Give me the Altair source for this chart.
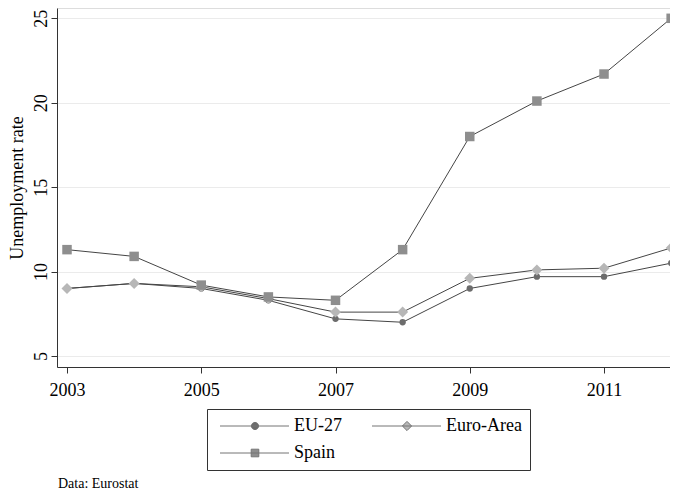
import altair as alt
import pandas as pd

years = list(range(2003, 2013))
series = ["EU-27", "Euro-Area", "Spain"]
eu27 = [9.0, 9.3, 9.0, 8.3, 7.2, 7.0, 9.0, 9.7, 9.7, 10.5]
euro_area = [9.0, 9.3, 9.1, 8.4, 7.6, 7.6, 9.6, 10.1, 10.2, 11.4]
spain = [11.3, 10.9, 9.2, 8.5, 8.3, 11.3, 18.0, 20.1, 21.7, 25.0]
x_ticks = [2003, 2005, 2007, 2009, 2011]
y_ticks = [5, 10, 15, 20, 25]

rows = []
for name, vals in zip(series, [eu27, euro_area, spain]):
    for yr, v in zip(years, vals):
        rows.append({"year": yr, "value": v, "series": name})
df = pd.DataFrame(rows)

FONT = "Liberation Serif"
LINE = "#454545"
LEG_LINE = "#747474"
fills = ["#6c6c6c", "#b7b7b7", "#8e8e8e"]
shapes = ["circle", "diamond", "square"]
sizes = [40, 121, 90]
legend_paths = [
    "M-1,0L16.25,0M8.65,0A0.9,0.9,0,1,1,6.85,0A0.9,0.9,0,1,1,8.65,0Z",
    "M-1,0L16.25,0M7.75,-1.15L8.9,0L7.75,1.15L6.6,0Z",
    "M-1,0L16.25,0M6.8,-0.95L8.7,-0.95L8.7,0.95L6.8,0.95Z",
]

base = alt.Chart(df).encode(
    x=alt.X(
        "year:Q",
        scale=alt.Scale(domain=[2002.851, 2011.983], nice=False, zero=False),
        axis=alt.Axis(
            values=x_ticks, format="d", title=None, grid=False,
            tickSize=6, labelPadding=8, labelFont=FONT, labelFontSize=18,
            labelColor="black", domainColor="#333", tickColor="#333",
            labelFlush=False,
        ),
    ),
    y=alt.Y(
        "value:Q",
        scale=alt.Scale(domain=[4.35, 25.61], nice=False, zero=False),
        axis=alt.Axis(
            values=y_ticks, title="Unemployment rate", grid=True,
            gridColor="#ebebeb", gridWidth=1,
            tickSize=6, labelPadding=5, labelAngle=270, labelAlign="center",
            labelBaseline="alphabetic", labelFont=FONT, labelFontSize=18,
            labelColor="black", domainColor="#333", tickColor="#333",
            titleFont=FONT, titleFontSize=18, titleFontWeight="normal",
            titleColor="black", titlePadding=6, labelFlush=False,
        ),
    ),
)

lines = base.mark_line(color=LINE, strokeWidth=1, clip=True).encode(detail="series:N")

point_layers = []
for s, f, sh, sz in zip(series, fills, shapes, sizes):
    point_layers.append(
        base.transform_filter(alt.datum.series == s).mark_point(
            shape=sh, fill=f, filled=True, size=sz, opacity=1, strokeWidth=0, clip=True
        )
    )

leg = alt.Legend(
    title=None, orient="none", legendX=150, legendY=401, columns=2,
    direction="horizontal",
    labelFont=FONT, labelFontSize=18, labelColor="black", labelOffset=61,
    symbolSize=64, symbolStrokeWidth=1, symbolOpacity=1,
    strokeColor="#333", fillColor="white", padding=8, columnPadding=25, rowPadding=9,
)

legend_layer = base.transform_calculate(key="datum.series").transform_filter(
    "false"
).mark_point(
    filled=False, stroke=LEG_LINE, strokeWidth=1, opacity=1
).encode(
    shape=alt.Shape("key:N", scale=alt.Scale(domain=series, range=legend_paths), legend=leg),
    fill=alt.Fill("key:N", scale=alt.Scale(domain=series, range=fills), legend=leg),
)

chart = alt.layer(lines, *point_layers, legend_layer).properties(
    width=613,
    height=359,
    padding={"left": 0, "top": 0, "right": 0, "bottom": 0},
    title=alt.TitleParams(
        text="Data: Eurostat", orient="bottom", anchor="start", frame="group",
        font=FONT, fontSize=14, fontWeight="normal", color="black", dx=1, offset=6,
    ),
).configure_view(stroke=None).configure(background="white")

chart.save("out.html", embed_options={"renderer": "svg", "actions": False})
